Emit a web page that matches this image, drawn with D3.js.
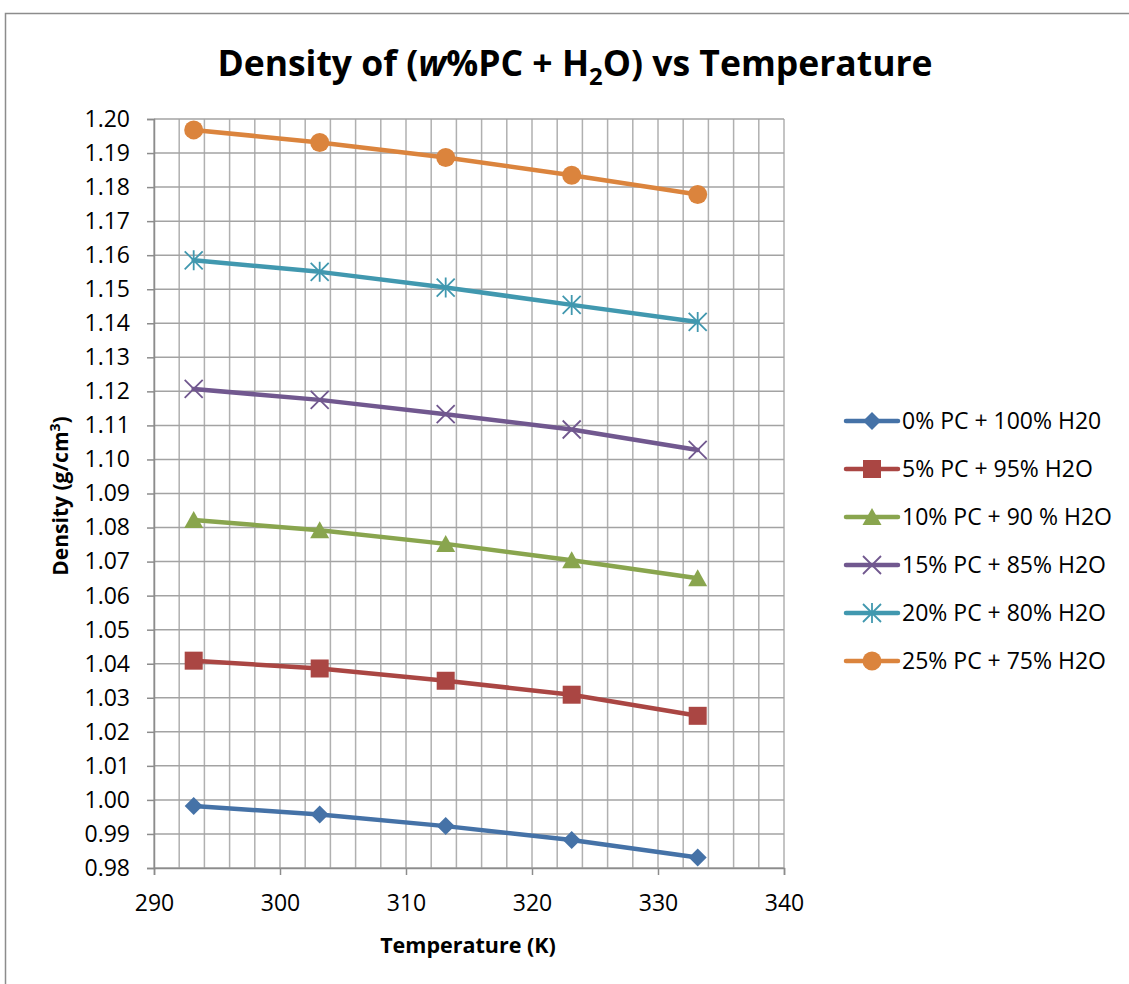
<!DOCTYPE html>
<html><head><meta charset="utf-8">
<script src="https://cdn.jsdelivr.net/npm/d3@7/dist/d3.min.js"></script>
<style>body{margin:0;background:#fff}svg{display:block}text{font-family:"Open Sans",sans-serif}</style>
</head><body>
<svg id="c" width="1129" height="984"></svg>
<script>
const temps = [293.15, 303.15, 313.15, 323.15, 333.15];
const seriesNames = ["0% PC + 100% H20","5% PC + 95% H2O","10% PC + 90 % H2O","15% PC + 85% H2O","20% PC + 80% H2O","25% PC + 75% H2O"];
const s0 = [0.9982, 0.9957, 0.9923, 0.9882, 0.9831];
const s5 = [1.0409, 1.0386, 1.0350, 1.0309, 1.0247];
const s10 = [1.0822, 1.0792, 1.0752, 1.0704, 1.0651];
const s15 = [1.1207, 1.1175, 1.1133, 1.1088, 1.1028];
const s20 = [1.1585, 1.1551, 1.1505, 1.1454, 1.1404];
const s25 = [1.1968, 1.1931, 1.1887, 1.1835, 1.1778];
const colors = ["#4572a7","#aa4643","#89a54e","#71588f","#4198af","#db843d"];
const markers = ["diamond","square","triangle","x","star","circle"];
const xTicks = [290,300,310,320,330,340];
const yTicks = d3.range(0,23).map(i => +(0.98 + i*0.01).toFixed(2));

const svg = d3.select("#c");
const L=154, R=784, T=119, B=868;
const x = d3.scaleLinear().domain([290,340]).range([L,R]);
const y = d3.scaleLinear().domain([0.98,1.20]).range([B,T]);

svg.append("rect").attr("x",5.5).attr("y",13.5).attr("width",1130).attr("height",1000)
  .attr("fill","none").attr("stroke","#8c8c8c").attr("stroke-width",1.5);

const grid = svg.append("g");
d3.range(290,341,2).forEach(v=>{
  grid.append("line").attr("x1",x(v)).attr("x2",x(v)).attr("y1",T).attr("y2",B)
    .attr("stroke","#b0b0b0").attr("stroke-width",1.5);
});
yTicks.forEach(v=>{
  grid.append("line").attr("x1",L).attr("x2",R).attr("y1",y(v)).attr("y2",y(v))
    .attr("stroke","#a3a3a3").attr("stroke-width",1.5);
});

const xAxis = svg.append("g").attr("transform",`translate(0,${B})`)
  .call(d3.axisBottom(x).tickValues(xTicks).tickSize(7).tickPadding(20).tickFormat(d3.format("d")));
const yAxis = svg.append("g").attr("transform",`translate(${L},0)`)
  .call(d3.axisLeft(y).tickValues(yTicks).tickSize(7).tickPadding(17).tickFormat(d3.format(".2f")));
[xAxis,yAxis].forEach(a=>{
  a.attr("font-family",null).attr("font-size",null);
  a.select(".domain").attr("stroke","#8c8c8c").attr("stroke-width",1.5);
  a.selectAll(".tick line").attr("stroke","#8c8c8c").attr("stroke-width",1.5);
  a.selectAll("text").style("font-size","23px").attr("fill","#000");
});

function drawMarker(g, type, cx, cy, color){
  if(type==="diamond"){
    g.append("path").attr("d",`M${cx},${cy-9}L${cx+9},${cy}L${cx},${cy+9}L${cx-9},${cy}Z`).attr("fill",color);
  } else if(type==="square"){
    g.append("rect").attr("x",cx-9).attr("y",cy-9).attr("width",18).attr("height",18).attr("fill",color);
  } else if(type==="triangle"){
    g.append("path").attr("d",`M${cx},${cy-9}L${cx+9.5},${cy+8}L${cx-9.5},${cy+8}Z`).attr("fill",color);
  } else if(type==="circle"){
    g.append("circle").attr("cx",cx).attr("cy",cy).attr("r",9.5).attr("fill",color);
  } else if(type==="x"){
    g.append("path").attr("d",`M${cx-9},${cy-9}L${cx+9},${cy+9}M${cx-9},${cy+9}L${cx+9},${cy-9}`)
      .attr("stroke",color).attr("stroke-width",1.8).attr("fill","none");
  } else if(type==="star"){
    g.append("path").attr("d",`M${cx-9},${cy-9}L${cx+9},${cy+9}M${cx-9},${cy+9}L${cx+9},${cy-9}M${cx},${cy-10}L${cx},${cy+10}`)
      .attr("stroke",color).attr("stroke-width",1.8).attr("fill","none");
  }
}

const allSeries = [s0,s5,s10,s15,s20,s25];
const line = d3.line().x((d,i)=>x(temps[i])).y(d=>y(d));
allSeries.forEach((vals,k)=>{
  const g = svg.append("g");
  g.append("path").datum(vals).attr("d",line).attr("fill","none")
    .attr("stroke",colors[k]).attr("stroke-width",4.5).attr("stroke-linejoin","round").attr("stroke-linecap","round");
  vals.forEach((v,i)=>drawMarker(g, markers[k], x(temps[i]), y(v), colors[k]));
});

const legY = [421, 469, 517, 565, 613, 661];
seriesNames.forEach((n,k)=>{
  const g = svg.append("g");
  g.append("line").attr("x1",846).attr("x2",898).attr("y1",legY[k]).attr("y2",legY[k])
    .attr("stroke",colors[k]).attr("stroke-width",4.5).attr("stroke-linecap","round");
  drawMarker(g, markers[k], 872, legY[k], colors[k]);
  g.append("text").attr("x",902).attr("y",legY[k]+8).style("font-size","23px").text(n);
});

const title = svg.append("text").attr("x",575).attr("y",76).attr("text-anchor","middle")
  .style("font-size","35.5px").attr("font-weight","bold");
title.append("tspan").text("Density of (");
title.append("tspan").attr("font-style","italic").text("w");
title.append("tspan").text("%PC + H");
title.append("tspan").style("font-size","24px").attr("dy",9).text("2");
title.append("tspan").attr("dy",-9).text("O) vs Temperature");

svg.append("text").attr("x",468).attr("y",953).attr("text-anchor","middle")
  .style("font-size","21.5px").attr("font-weight","bold").text("Temperature (K)");
const yl = svg.append("text").attr("transform","translate(68,496) rotate(-90)").attr("text-anchor","middle")
  .style("font-size","21px").attr("font-weight","bold");
yl.append("tspan").text("Density (g/cm");
yl.append("tspan").style("font-size","14px").attr("dy",-8).text("3");
yl.append("tspan").attr("dy",8).text(")");
</script>
</body></html>
